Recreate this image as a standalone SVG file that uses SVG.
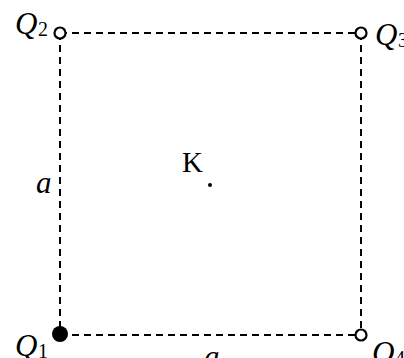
<svg xmlns="http://www.w3.org/2000/svg" width="404" height="358" viewBox="0 0 404 358">
<style>
.edge{stroke:#000;stroke-width:2;stroke-dasharray:7,5;fill:none}
.open{fill:#fff;stroke:#000;stroke-width:2.2}
.lab{font-family:"Liberation Serif",serif;font-style:italic;font-size:31px;fill:#000}
.sub{font-family:"Liberation Serif",serif;font-size:20px;fill:#000}
.k{font-family:"Liberation Serif",serif;font-size:29px;fill:#000}
</style>
<rect width="404" height="358" fill="#fff"/>
<g id="connectors">
<line class="edge" x1="60" y1="33" x2="361" y2="33"/>
<line class="edge" x1="60" y1="335" x2="361" y2="335"/>
<line class="edge" x1="60" y1="33" x2="60" y2="335"/>
<line class="edge" x1="361" y1="33" x2="361" y2="335"/>
</g>
<g id="Q2">
<circle class="open" cx="60" cy="33" r="5.5"/>
<text class="lab" x="15" y="34">Q</text><text class="sub" x="38" y="36">2</text>
</g>
<g id="Q3">
<circle class="open" cx="361" cy="33" r="5.5"/>
<text class="lab" x="375" y="45">Q</text><text class="sub" x="398" y="47">3</text>
</g>
<g id="Q1">
<circle cx="60" cy="334" r="8" fill="#000"/>
<text class="lab" x="15" y="356">Q</text><text class="sub" x="38" y="358">1</text>
</g>
<g id="Q4">
<circle class="open" cx="361" cy="335" r="5.5"/>
<text class="lab" x="372" y="363">Q</text><text class="sub" x="395" y="365">4</text>
</g>
<g id="K">
<text class="k" x="182" y="172">K</text>
<circle cx="210" cy="185" r="2" fill="#000"/>
</g>
<g id="labels">
<text class="lab" x="36" y="193">a</text>
<text class="lab" x="204" y="367">a</text>
</g>
</svg>
